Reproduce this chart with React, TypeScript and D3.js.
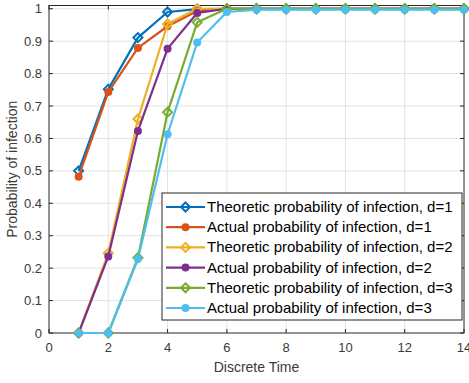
import React, { useRef, useEffect } from 'react';
import * as d3 from 'd3';

const times = [1, 2, 3, 4, 5, 6, 7, 8, 9, 10, 11, 12, 13, 14];

const theoD1 = [0.5, 0.752, 0.911, 0.99, 0.999, 1, 1, 1, 1, 1, 1, 1, 1, 1];
const actD1 = [0.482, 0.743, 0.879, 0.946, 0.993, 1, 1, 1, 1, 1, 1, 1, 1, 1];
const theoD2 = [0, 0.246, 0.66, 0.953, 1, 1, 1, 1, 1, 1, 1, 1, 1, 1];
const actD2 = [0, 0.236, 0.623, 0.877, 0.987, 1, 1, 1, 1, 1, 1, 1, 1, 1];
const theoD3 = [0, 0, 0.232, 0.681, 0.958, 1, 1, 1, 1, 1, 1, 1, 1, 1];
const actD3 = [0, 0, 0.228, 0.613, 0.896, 0.99, 0.997, 0.997, 0.997, 0.997, 0.997, 0.997, 0.997, 0.997];

const xTicks = [0, 2, 4, 6, 8, 10, 12, 14];
const yTicks = [0, 0.1, 0.2, 0.3, 0.4, 0.5, 0.6, 0.7, 0.8, 0.9, 1];

const series = [
  { name: 'Theoretic probability of infection, d=1', values: theoD1, color: '#0072BD', marker: 'diamond' },
  { name: 'Actual probability of infection, d=1', values: actD1, color: '#D95319', marker: 'circle' },
  { name: 'Theoretic probability of infection, d=2', values: theoD2, color: '#EDB120', marker: 'diamond' },
  { name: 'Actual probability of infection, d=2', values: actD2, color: '#7E2F8E', marker: 'circle' },
  { name: 'Theoretic probability of infection, d=3', values: theoD3, color: '#77AC30', marker: 'diamond' },
  { name: 'Actual probability of infection, d=3', values: actD3, color: '#4DBEEE', marker: 'circle' },
];

const App: React.FC = () => {
  const svgRef = useRef<SVGSVGElement>(null);
  const width = 469;
  const height = 383;
  const margin = { top: 5.5, right: 5, bottom: 50, left: 49 };

  useEffect(() => {
    document.body.style.margin = '0';
    if (!svgRef.current) return;
    const svg = d3.select(svgRef.current);
    svg.selectAll('*').remove();

    const font = 'Liberation Sans, Arial, Helvetica, sans-serif';
    const axisColor = '#262626';
    const labelColor = '#3a3a3a';

    const x = d3.scaleLinear().domain([0, 14]).range([margin.left, width - margin.right]);
    const y = d3.scaleLinear().domain([0, 1.01]).range([height - margin.bottom, margin.top]);
    const x0 = x.range()[0], x1 = x.range()[1];
    const y0 = y.range()[0], y1 = y.range()[1];

    svg.append('rect').attr('x', 0).attr('y', 0).attr('width', width).attr('height', height).attr('fill', '#fff');

    // Grid
    const grid = svg.append('g').attr('stroke', '#e3e3e3').attr('stroke-width', 1);
    xTicks.slice(1, -1).forEach(t => {
      grid.append('line').attr('x1', x(t)).attr('x2', x(t)).attr('y1', y0).attr('y2', y1);
    });
    yTicks.slice(1).forEach(t => {
      grid.append('line').attr('x1', x0).attr('x2', x1).attr('y1', y(t)).attr('y2', y(t));
    });

    // Box
    svg.append('rect')
      .attr('x', x0).attr('y', y1).attr('width', x1 - x0).attr('height', y0 - y1)
      .attr('fill', 'none').attr('stroke', axisColor).attr('stroke-width', 1);

    // Ticks
    const ticks = svg.append('g').attr('stroke', axisColor).attr('stroke-width', 1);
    xTicks.forEach(t => {
      ticks.append('line').attr('x1', x(t)).attr('x2', x(t)).attr('y1', y0).attr('y2', y0 - 4);
      ticks.append('line').attr('x1', x(t)).attr('x2', x(t)).attr('y1', y1).attr('y2', y1 + 4);
    });
    yTicks.forEach(t => {
      ticks.append('line').attr('x1', x0).attr('x2', x0 + 4).attr('y1', y(t)).attr('y2', y(t));
      ticks.append('line').attr('x1', x1).attr('x2', x1 - 4).attr('y1', y(t)).attr('y2', y(t));
    });

    // Tick labels
    svg.append('g').selectAll('text').data(xTicks).enter().append('text')
      .attr('x', d => x(d)).attr('y', y0 + 19)
      .attr('text-anchor', 'middle').attr('font-family', font).attr('font-size', 13)
      .attr('fill', labelColor).text(d => d);
    svg.append('g').selectAll('text').data(yTicks).enter().append('text')
      .attr('x', x0 - 7).attr('y', d => y(d) + 4.5)
      .attr('text-anchor', 'end').attr('font-family', font).attr('font-size', 13)
      .attr('fill', labelColor).text(d => d);

    // Axis labels
    svg.append('text')
      .attr('x', (x0 + x1) / 2).attr('y', y0 + 39)
      .attr('text-anchor', 'middle').attr('font-family', font).attr('font-size', 14)
      .attr('fill', labelColor).text('Discrete Time');
    svg.append('text')
      .attr('transform', `translate(17,${(y0 + y1) / 2}) rotate(-90)`)
      .attr('text-anchor', 'middle').attr('font-family', font).attr('font-size', 14)
      .attr('fill', labelColor).text('Probability of infection');

    const line = d3.line<number>().x((_, i) => x(times[i])).y(d => y(d));
    const diamond = (s: number) => `M0,${-s}L${s},0L0,${s}L${-s},0Z`;

    const drawMarker = (g: d3.Selection<SVGGElement, unknown, null, undefined>, cx: number, cy: number, color: string, marker: string) => {
      if (marker === 'diamond') {
        g.append('path').attr('d', diamond(4.5)).attr('transform', `translate(${cx},${cy})`)
          .attr('fill', 'none').attr('stroke', color).attr('stroke-width', 2);
      } else {
        g.append('circle').attr('cx', cx).attr('cy', cy).attr('r', 4).attr('fill', color);
      }
    };

    series.forEach(s => {
      const g = svg.append('g');
      g.append('path').datum(s.values).attr('d', line).attr('fill', 'none')
        .attr('stroke', s.color).attr('stroke-width', 2.2).attr('stroke-linejoin', 'round');
      s.values.forEach((v, i) => drawMarker(g, x(times[i]), y(v), s.color, s.marker));
    });

    // Legend
    const lx = 162, ly = 193, lw = 300, lh = 127;
    const lg = svg.append('g');
    lg.append('rect').attr('x', lx).attr('y', ly).attr('width', lw).attr('height', lh)
      .attr('fill', '#fff').attr('stroke', axisColor).attr('stroke-width', 1);
    series.forEach((s, i) => {
      const cy = ly + 14 + i * 20.2;
      lg.append('line').attr('x1', lx + 4).attr('x2', lx + 43).attr('y1', cy).attr('y2', cy)
        .attr('stroke', s.color).attr('stroke-width', 2.2);
      drawMarker(lg, lx + 23.5, cy, s.color, s.marker);
      lg.append('text').attr('x', lx + 45).attr('y', cy + 5)
        .attr('font-family', font).attr('font-size', 15).attr('fill', '#000').text(s.name);
    });
  }, []);

  return (
    <svg ref={svgRef} width={width} height={height}
      style={{ position: 'absolute', left: 0, top: 0, display: 'block' }} />
  );
};

export default App;
